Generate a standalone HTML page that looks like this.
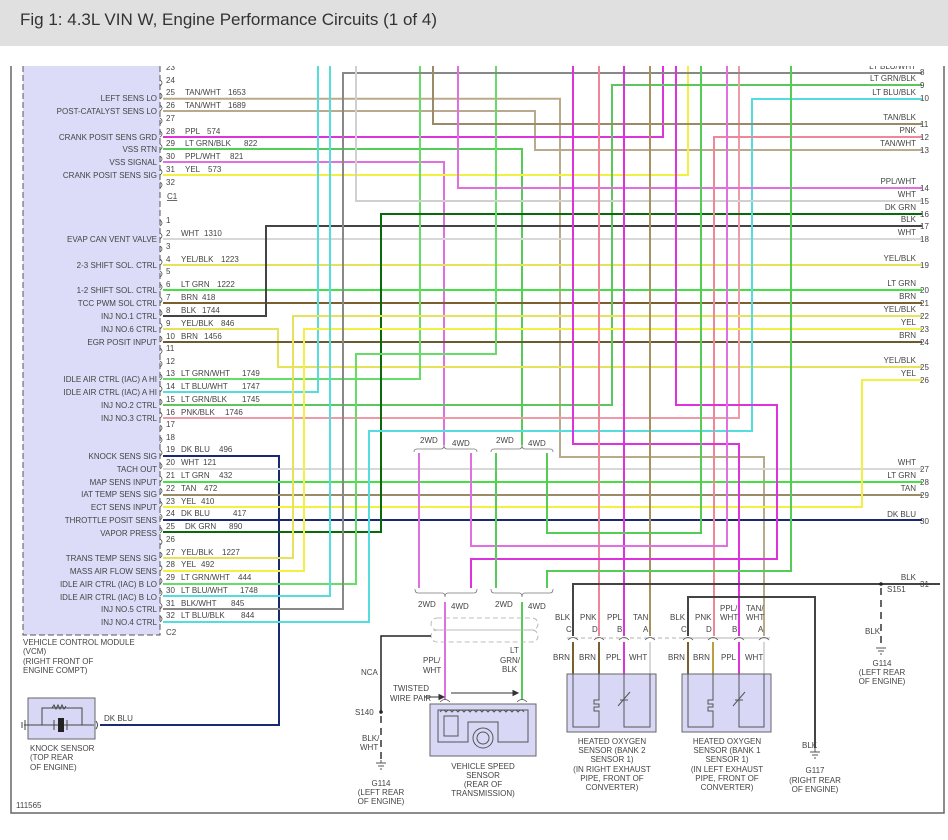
<!DOCTYPE html>
<html><head><meta charset="utf-8"><style>
html,body{margin:0;padding:0;background:#fff;}
body{width:948px;height:840px;overflow:hidden;position:relative;font-family:"Liberation Sans",sans-serif;}
#t{position:absolute;left:0;top:0;width:948px;height:46px;background:#e0e0e0;}
#t span{position:absolute;left:20px;top:10px;font-size:17px;color:#333;}
svg{position:absolute;left:0;top:0;}
svg text{font-family:"Liberation Sans",sans-serif;font-size:8px;fill:#444;}
</style></head><body>
<div id="t"><span>Fig 1: 4.3L VIN W, Engine Performance Circuits (1 of 4)</span></div>
<svg width="948" height="840" viewBox="0 0 948 840">
<defs><clipPath id="c"><rect x="0" y="66" width="948" height="774"/></clipPath></defs>
<g clip-path="url(#c)">
<polyline points="11,60 11,813 944,813 944,60" fill="none" stroke="#666" stroke-width="1.5"/>
<rect x="23" y="50" width="137" height="585" fill="#dcdcf8" stroke="#555" stroke-dasharray="6,3"/>
<g fill="none" stroke-width="2">
<polyline stroke="#b8aa8a" points="163,98.7 560,98.7 560,457 764,457 764,636"/>
<polyline stroke="#b8aa8a" points="163,111 535,111 535,150 922,150"/>
<polyline stroke="#dd33dd" points="163,137 663,137 663,60"/>
<polyline stroke="#55cc55" points="163,149 522,149 522,445"/>
<polyline stroke="#e070e0" points="163,162 444,162 444,445"/>
<polyline stroke="#f2f040" points="163,175 688,175 688,60"/>
<polyline stroke="#d8d8d8" points="163,239 922,239"/>
<polyline stroke="#e6e35a" points="163,265 922,265"/>
<polyline stroke="#44e044" points="163,290 922,290"/>
<polyline stroke="#7a6030" points="163,303 922,303"/>
<polyline stroke="#444" points="163,316 266,316 266,226 922,226"/>
<polyline stroke="#e6e35a" points="163,329 278,329 278,367 922,367"/>
<polyline stroke="#6b5a30" points="163,342 922,342"/>
<polyline stroke="#66dd66" points="163,379 420,379 420,60"/>
<polyline stroke="#55dddd" points="163,392 318,392 318,60"/>
<polyline stroke="#5cc85c" points="163,405 612,405 612,85 922,85"/>
<polyline stroke="#ee9aa8" points="163,418 739,418 739,60"/>
<polyline stroke="#1a2a70" points="163,456 279,456 279,725 100,725"/>
<polyline stroke="#d8d8d8" points="163,469 922,469"/>
<polyline stroke="#44e044" points="163,482 922,482"/>
<polyline stroke="#9a8a68" points="163,495 922,495"/>
<polyline stroke="#f2f040" points="163,507 862,507 862,380 922,380"/>
<polyline stroke="#1a2a70" points="163,520 922,520"/>
<polyline stroke="#0a6a0a" points="163,532 381,532 381,214 922,214"/>
<polyline stroke="#e6e35a" points="163,558 293,558 293,316 922,316"/>
<polyline stroke="#f2f040" points="163,571 304,571 304,329 922,329"/>
<polyline stroke="#66dd66" points="163,584 356,584 356,354 496,354 496,60"/>
<polyline stroke="#55dddd" points="163,596 330,596 330,60"/>
<polyline stroke="#888" points="163,609 343,609 343,73 922,73"/>
<polyline stroke="#55dddd" points="163,622 369,622 369,431 752,431 752,99 922,99"/>
<polyline stroke="#d0d0d0" points="356,60 356,201 922,201"/>
<polyline stroke="#9a8a68" points="433,60 433,124 922,124"/>
<polyline stroke="#e070e0" points="458,60 458,188 922,188"/>
<polyline stroke="#ee8899" points="922,137 714,137 714,636"/>
<polyline stroke="#dd33dd" points="573,60 573,444 739,444 739,636"/>
<polyline stroke="#ee8899" points="599,60 599,636"/>
<polyline stroke="#dd33dd" points="624,60 624,636"/>
<polyline stroke="#a89060" points="650,60 650,636"/>
<polyline stroke="#dd33dd" points="676,60 676,405 777,405 777,559 471,559 471,588"/>
<polyline stroke="#55cc55" points="701,60 701,533 547,533 547,453"/>
<polyline stroke="#e070e0" points="727,60 727,546 471,546 471,453"/>
<polyline stroke="#55cc55" points="791,60 791,571 547,571 547,588"/>
<polyline stroke="#e070e0" points="419,453 419,588"/>
<polyline stroke="#55cc55" points="496,453 496,588"/>
<polyline stroke="#e070e0" points="445,602 445,700"/>
<polyline stroke="#55cc55" points="522,602 522,700"/>
<polyline stroke="#444" points="573,636 573,584 940,584"/>
<polyline stroke="#444" points="688,636 688,597 815,597 815,748"/>
<polyline stroke="#7a6030" points="573,642 573,674"/>
<polyline stroke="#7a6030" points="599,642 599,674"/>
<polyline stroke="#dd33dd" points="624,642 624,674"/>
<polyline stroke="#d8d8d8" points="650,642 650,674"/>
<polyline stroke="#7a6030" points="688,642 688,674"/>
<polyline stroke="#b8a040" points="713,642 713,674"/>
<polyline stroke="#dd33dd" points="739,642 739,674"/>
<polyline stroke="#d8d8d8" points="764,642 764,674"/>
</g>
<g fill="none" stroke="#555" stroke-width="0.8">
<path d="M160,80 q4,3 0,6 M160,93 q4,3 0,6 M160,105 q4,3 0,6 M160,118 q4,3 0,6 M160,131 q4,3 0,6 M160,144 q4,3 0,6 M160,156 q4,3 0,6 M160,169 q4,3 0,6 M160,182 q4,3 0,6 M160,220 q4,3 0,6 M160,233 q4,3 0,6 M160,246 q4,3 0,6 M160,259 q4,3 0,6 M160,271 q4,3 0,6 M160,284 q4,3 0,6 M160,297 q4,3 0,6 M160,310 q4,3 0,6 M160,323 q4,3 0,6 M160,336 q4,3 0,6 M160,348 q4,3 0,6 M160,361 q4,3 0,6 M160,374 q4,3 0,6 M160,386 q4,3 0,6 M160,399 q4,3 0,6 M160,412 q4,3 0,6 M160,425 q4,3 0,6 M160,437 q4,3 0,6 M160,450 q4,3 0,6 M160,463 q4,3 0,6 M160,476 q4,3 0,6 M160,488 q4,3 0,6 M160,501 q4,3 0,6 M160,514 q4,3 0,6 M160,527 q4,3 0,6 M160,539 q4,3 0,6 M160,552 q4,3 0,6 M160,565 q4,3 0,6 M160,578 q4,3 0,6 M160,590 q4,3 0,6 M160,603 q4,3 0,6 M160,616 q4,3 0,6"/>
<path stroke="#777" d="M414,452 Q414,449 417,449 L441,449 Q444,449 444,445 Q444,449 447,449 L474,449 Q477,449 477,452"/>
<path stroke="#777" d="M491,452 Q491,449 494,449 L519,449 Q522,449 522,445 Q522,449 525,449 L550,449 Q553,449 553,452"/>
<path stroke="#777" d="M415,589 Q415,593 418,593 L442,593 Q445,593 445,597 Q445,593 448,593 L474,593 Q477,593 477,589"/>
<path stroke="#777" d="M491,589 Q491,593 494,593 L519,593 Q522,593 522,597 Q522,593 525,593 L550,593 Q553,593 553,589"/>
<path stroke="#999" stroke-dasharray="4,3" d="M567,638 L770,638 M682,638 L772,638"/>
<path stroke="#555" d="M568,640 q5,-5 10,0 M594,640 q5,-5 10,0 M619,640 q5,-5 10,0 M645,640 q5,-5 10,0 M683,640 q5,-5 10,0 M708,640 q5,-5 10,0 M734,640 q5,-5 10,0 M759,640 q5,-5 10,0 M440,702 q5,-5 10,0 M517,702 q5,-5 10,0"/>
<rect x="431" y="618" width="107" height="12" rx="6" stroke="#aaa" stroke-dasharray="5,3"/>
<rect x="431" y="630" width="107" height="12" rx="6" stroke="#aaa" stroke-dasharray="5,3"/>
</g>
<polyline points="431,636 381,636 381,712" fill="none" stroke="#222" stroke-width="1.5"/>
<line x1="381" y1="716" x2="381" y2="760" stroke="#333" stroke-width="1.5" stroke-dasharray="7,5"/>
<circle cx="381" cy="712" r="1.8" fill="#222"/>
<line x1="881" y1="588" x2="881" y2="645" stroke="#333" stroke-width="1.5" stroke-dasharray="7,5"/>
<circle cx="881" cy="584" r="1.8" fill="#222"/>
<g stroke="#555" stroke-width="1">
<path d="M376,763 h10 M378,766 h6 M380,769 h2 M876,648 h10 M878,651 h6 M880,654 h2 M810,752 h10 M812,755 h6 M814,758 h2 M381,760 v3 M815,748 v4"/>
</g>
<g stroke="#333" stroke-width="1" fill="#333">
<line x1="424" y1="697" x2="440" y2="697"/><path d="M444,697 l-5,-2.5 v5z"/>
<line x1="451" y1="693" x2="514" y2="693"/><path d="M518,693 l-5,-2.5 v5z"/>
</g>
<rect x="430" y="704" width="106" height="52" fill="#d8d8f6" stroke="#666"/>
<path d="M438,710 h90 v32 h-30 v-20 h-30 v20 h-30z M444,716 v20 h14 v-20z" fill="none" stroke="#555"/>
<path d="M440,712 q3,-4 6,0 q3,-4 6,0 q3,-4 6,0 q3,-4 6,0 q3,-4 6,0 q3,-4 6,0 q3,-4 6,0 q3,-4 6,0 q3,-4 6,0 q3,-4 6,0 q3,-4 6,0 q3,-4 6,0 q3,-4 6,0 q3,-4 6,0" fill="none" stroke="#555"/>
<circle cx="483" cy="738" r="10" fill="#d8d8f6" stroke="#555"/>
<circle cx="483" cy="738" r="6" fill="none" stroke="#555"/>
<rect x="567" y="674" width="89" height="58" fill="#d8d8f6" stroke="#666"/>
<rect x="682" y="674" width="89" height="58" fill="#d8d8f6" stroke="#666"/>
<g fill="none" stroke="#555">
<path d="M573,674 v53 h26 v-16 h-5 v-4 h5 v-3 h-5 v-4 h5 v-26 M624,674 v53 h26 v-53 M618,706 l12,-14 M620,700 h8"/>
<path d="M688,674 v53 h25 v-16 h-5 v-4 h5 v-3 h-5 v-4 h5 v-26 M739,674 v53 h25 v-53 M733,706 l12,-14 M735,700 h8"/>
</g>
<rect x="28" y="698" width="67" height="41" fill="#d8d8f6" stroke="#666"/>
<g fill="none" stroke="#444">
<path d="M24,725 h70 M42,725 v-17 h40 v17 M54,720 v10 M67,720 v10 M22,722 v6 M25,720 v10"/>
<path d="M52,708 l2,-3 l2,4 l2,-4 l2,4 l2,-4 l2,4 l2,-3"/>
<path d="M96,721 q3,4 0,8"/>
</g>
<rect x="58" y="718" width="6" height="14" fill="#222"/>
<g text-anchor="end">
<text x="157" y="101">LEFT SENS LO</text>
<text x="157" y="114">POST-CATALYST SENS LO</text>
<text x="157" y="140">CRANK POSIT SENS GRD</text>
<text x="157" y="152">VSS RTN</text>
<text x="157" y="165">VSS SIGNAL</text>
<text x="157" y="178">CRANK POSIT SENS SIG</text>
<text x="157" y="242">EVAP CAN VENT VALVE</text>
<text x="157" y="268">2-3 SHIFT SOL. CTRL</text>
<text x="157" y="293">1-2 SHIFT SOL. CTRL</text>
<text x="157" y="306">TCC PWM SOL CTRL</text>
<text x="157" y="319">INJ NO.1 CTRL</text>
<text x="157" y="332">INJ NO.6 CTRL</text>
<text x="157" y="345">EGR POSIT INPUT</text>
<text x="157" y="382">IDLE AIR CTRL (IAC) A HI</text>
<text x="157" y="395">IDLE AIR CTRL (IAC) A HI</text>
<text x="157" y="408">INJ NO.2 CTRL</text>
<text x="157" y="421">INJ NO.3 CTRL</text>
<text x="157" y="459">KNOCK SENS SIG</text>
<text x="157" y="472">TACH OUT</text>
<text x="157" y="485">MAP SENS INPUT</text>
<text x="157" y="497">IAT TEMP SENS SIG</text>
<text x="157" y="510">ECT SENS INPUT</text>
<text x="157" y="523">THROTTLE POSIT SENS</text>
<text x="157" y="536">VAPOR PRESS</text>
<text x="157" y="561">TRANS TEMP SENS SIG</text>
<text x="157" y="574">MASS AIR FLOW SENS</text>
<text x="157" y="587">IDLE AIR CTRL (IAC) B LO</text>
<text x="157" y="600">IDLE AIR CTRL (IAC) B LO</text>
<text x="157" y="612">INJ NO.5 CTRL</text>
<text x="157" y="625">INJ NO.4 CTRL</text>
</g>
<g>
<text x="166" y="70">23</text><text x="166" y="83">24</text>
<text x="166" y="95">25</text><text x="185" y="95">TAN/WHT</text><text x="228" y="95">1653</text>
<text x="166" y="108">26</text><text x="185" y="108">TAN/WHT</text><text x="228" y="108">1689</text>
<text x="166" y="121">27</text>
<text x="166" y="134">28</text><text x="185" y="134">PPL</text><text x="207" y="134">574</text>
<text x="166" y="146">29</text><text x="185" y="146">LT GRN/BLK</text><text x="244" y="146">822</text>
<text x="166" y="159">30</text><text x="185" y="159">PPL/WHT</text><text x="230" y="159">821</text>
<text x="166" y="172">31</text><text x="185" y="172">YEL</text><text x="208" y="172">573</text>
<text x="166" y="185">32</text>
<text x="167" y="199" text-decoration="underline">C1</text>
<text x="166" y="223">1</text>
<text x="166" y="236">2</text><text x="181" y="236">WHT</text><text x="204" y="236">1310</text>
<text x="166" y="249">3</text>
<text x="166" y="262">4</text><text x="181" y="262">YEL/BLK</text><text x="221" y="262">1223</text>
<text x="166" y="274">5</text>
<text x="166" y="287">6</text><text x="181" y="287">LT GRN</text><text x="217" y="287">1222</text>
<text x="166" y="300">7</text><text x="181" y="300">BRN</text><text x="202" y="300">418</text>
<text x="166" y="313">8</text><text x="181" y="313">BLK</text><text x="202" y="313">1744</text>
<text x="166" y="326">9</text><text x="181" y="326">YEL/BLK</text><text x="221" y="326">846</text>
<text x="166" y="339">10</text><text x="181" y="339">BRN</text><text x="204" y="339">1456</text>
<text x="166" y="351">11</text><text x="166" y="364">12</text>
<text x="166" y="376">13</text><text x="181" y="376">LT GRN/WHT</text><text x="242" y="376">1749</text>
<text x="166" y="389">14</text><text x="181" y="389">LT BLU/WHT</text><text x="242" y="389">1747</text>
<text x="166" y="402">15</text><text x="181" y="402">LT GRN/BLK</text><text x="242" y="402">1745</text>
<text x="166" y="415">16</text><text x="181" y="415">PNK/BLK</text><text x="225" y="415">1746</text>
<text x="166" y="427">17</text><text x="166" y="440">18</text>
<text x="166" y="452">19</text><text x="181" y="452">DK BLU</text><text x="219" y="452">496</text>
<text x="166" y="465">20</text><text x="181" y="465">WHT</text><text x="203" y="465">121</text>
<text x="166" y="478">21</text><text x="181" y="478">LT GRN</text><text x="219" y="478">432</text>
<text x="166" y="491">22</text><text x="181" y="491">TAN</text><text x="204" y="491">472</text>
<text x="166" y="504">23</text><text x="181" y="504">YEL</text><text x="201" y="504">410</text>
<text x="166" y="516">24</text><text x="181" y="516">DK BLU</text><text x="233" y="516">417</text>
<text x="166" y="529">25</text><text x="185" y="529">DK GRN</text><text x="229" y="529">890</text>
<text x="166" y="542">26</text>
<text x="166" y="555">27</text><text x="181" y="555">YEL/BLK</text><text x="222" y="555">1227</text>
<text x="166" y="567">28</text><text x="181" y="567">YEL</text><text x="201" y="567">492</text>
<text x="166" y="580">29</text><text x="181" y="580">LT GRN/WHT</text><text x="238" y="580">444</text>
<text x="166" y="593">30</text><text x="181" y="593">LT BLU/WHT</text><text x="240" y="593">1748</text>
<text x="166" y="606">31</text><text x="181" y="606">BLK/WHT</text><text x="231" y="606">845</text>
<text x="166" y="618">32</text><text x="181" y="618">LT BLU/BLK</text><text x="241" y="618">844</text>
<text x="166" y="635">C2</text>
<text x="23" y="645">VEHICLE CONTROL MODULE</text>
<text x="23" y="654">(VCM)</text>
<text x="23" y="664">(RIGHT FRONT OF</text>
<text x="23" y="673">ENGINE COMPT)</text>
<text x="104" y="721">DK BLU</text>
<text x="30" y="751">KNOCK SENSOR</text>
<text x="30" y="760">(TOP REAR</text>
<text x="30" y="770">OF ENGINE)</text>
<text x="16" y="808">111565</text>
</g>
<g text-anchor="end">
<text x="916" y="69">LT BLU/WHT</text>
<text x="916" y="81">LT GRN/BLK</text>
<text x="916" y="95">LT BLU/BLK</text>
<text x="916" y="120">TAN/BLK</text>
<text x="916" y="133">PNK</text>
<text x="916" y="146">TAN/WHT</text>
<text x="916" y="184">PPL/WHT</text>
<text x="916" y="197">WHT</text>
<text x="916" y="210">DK GRN</text>
<text x="916" y="222">BLK</text>
<text x="916" y="235">WHT</text>
<text x="916" y="261">YEL/BLK</text>
<text x="916" y="286">LT GRN</text>
<text x="916" y="299">BRN</text>
<text x="916" y="312">YEL/BLK</text>
<text x="916" y="325">YEL</text>
<text x="916" y="338">BRN</text>
<text x="916" y="363">YEL/BLK</text>
<text x="916" y="376">YEL</text>
<text x="916" y="465">WHT</text>
<text x="916" y="478">LT GRN</text>
<text x="916" y="491">TAN</text>
<text x="916" y="517">DK BLU</text>
<text x="916" y="580">BLK</text>
</g>
<g>
<text x="920" y="75">8</text><text x="920" y="88">9</text><text x="920" y="101">10</text>
<text x="920" y="127">11</text><text x="920" y="140">12</text><text x="920" y="153">13</text>
<text x="920" y="191">14</text><text x="920" y="204">15</text><text x="920" y="217">16</text>
<text x="920" y="229">17</text><text x="920" y="242">18</text><text x="920" y="268">19</text>
<text x="920" y="293">20</text><text x="920" y="306">21</text><text x="920" y="319">22</text>
<text x="920" y="332">23</text><text x="920" y="345">24</text><text x="920" y="370">25</text>
<text x="920" y="383">26</text><text x="920" y="472">27</text><text x="920" y="485">28</text>
<text x="920" y="498">29</text><text x="920" y="524">30</text><text x="920" y="587">31</text>
<text x="420" y="443">2WD</text><text x="452" y="446">4WD</text>
<text x="496" y="443">2WD</text><text x="528" y="446">4WD</text>
<text x="418" y="607">2WD</text><text x="451" y="609">4WD</text>
<text x="495" y="607">2WD</text><text x="528" y="609">4WD</text>
<text x="361" y="675">NCA</text>
<text x="423" y="663">PPL/</text><text x="423" y="673">WHT</text>
<text x="510" y="653">LT</text><text x="500" y="663">GRN/</text><text x="502" y="672">BLK</text>
<text x="393" y="691">TWISTED</text><text x="390" y="701">WIRE PAIR</text>
<text x="355" y="715">S140</text>
<text x="362" y="741">BLK/</text><text x="360" y="750">WHT</text>
<text x="887" y="592">S151</text>
<text x="865" y="634">BLK</text>
<text x="802" y="748">BLK</text>
<text x="555" y="620">BLK</text><text x="580" y="620">PNK</text><text x="607" y="620">PPL</text><text x="633" y="620">TAN</text>
<text x="566" y="632">C</text><text x="592" y="632">D</text><text x="617" y="632">B</text><text x="643" y="632">A</text>
<text x="553" y="660">BRN</text><text x="579" y="660">BRN</text><text x="606" y="660">PPL</text><text x="629" y="660">WHT</text>
<text x="670" y="620">BLK</text><text x="695" y="620">PNK</text><text x="720" y="611">PPL/</text><text x="720" y="620">WHT</text><text x="746" y="611">TAN/</text><text x="746" y="620">WHT</text>
<text x="681" y="632">C</text><text x="706" y="632">D</text><text x="732" y="632">B</text><text x="758" y="632">A</text>
<text x="668" y="660">BRN</text><text x="693" y="660">BRN</text><text x="721" y="660">PPL</text><text x="745" y="660">WHT</text>
</g>
<g text-anchor="middle">
<text x="381" y="786">G114</text><text x="381" y="795">(LEFT REAR</text><text x="381" y="804">OF ENGINE)</text>
<text x="483" y="769">VEHICLE SPEED</text><text x="483" y="778">SENSOR</text><text x="483" y="787">(REAR OF</text><text x="483" y="796">TRANSMISSION)</text>
<text x="612" y="744">HEATED OXYGEN</text><text x="612" y="753">SENSOR (BANK 2</text><text x="612" y="762">SENSOR 1)</text><text x="612" y="772">(IN RIGHT EXHAUST</text><text x="612" y="781">PIPE, FRONT OF</text><text x="612" y="790">CONVERTER)</text>
<text x="727" y="744">HEATED OXYGEN</text><text x="727" y="753">SENSOR (BANK 1</text><text x="727" y="762">SENSOR 1)</text><text x="727" y="772">(IN LEFT EXHAUST</text><text x="727" y="781">PIPE, FRONT OF</text><text x="727" y="790">CONVERTER)</text>
<text x="815" y="773">G117</text><text x="815" y="783">(RIGHT REAR</text><text x="815" y="792">OF ENGINE)</text>
<text x="882" y="666">G114</text><text x="882" y="675">(LEFT REAR</text><text x="882" y="684">OF ENGINE)</text>
</g>
</g>
</svg>
</body></html>
